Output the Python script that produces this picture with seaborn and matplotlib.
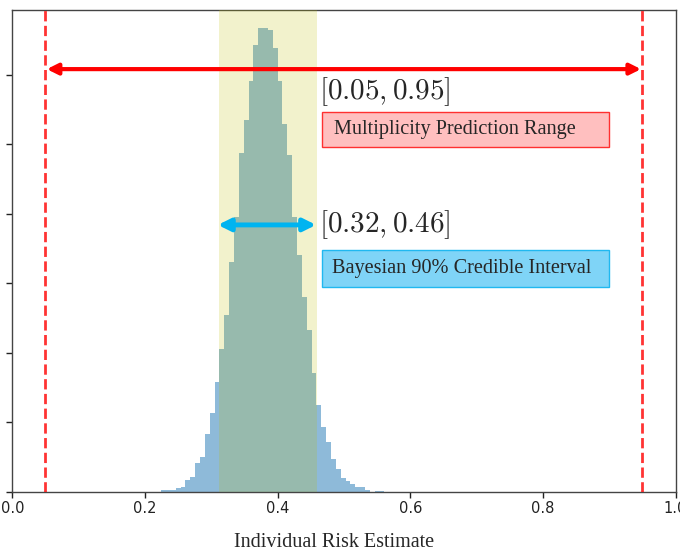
import numpy as np
import pandas as pd
import matplotlib
matplotlib.use("Agg")
import matplotlib.pyplot as plt
import seaborn as sns
from matplotlib.patches import Rectangle

# ---- data ----
bin_start = 0.2244
bin_width = 0.00732
heights = [0.03, 0.03, 0.03, 0.06, 0.07, 0.17, 0.22, 0.41, 0.51, 0.84, 1.14, 1.58,
           2.06, 2.55, 3.30, 3.96, 4.87, 5.35, 5.91, 6.43, 6.67, 6.67, 6.64, 6.38,
           5.91, 5.29, 4.84, 3.96, 3.41, 2.80, 2.33, 1.71,
           1.25, 0.93, 0.72, 0.48, 0.33, 0.20, 0.16, 0.12, 0.07, 0.07, 0.03, 0.0,
           0.02, 0.02]
credible_span = [0.312, 0.459]
prediction_range = [0.05, 0.95]
credible_label = r"$[0.32, 0.46]$"
range_label = r"$[0.05, 0.95]$"
range_box_text = "Multiplicity Prediction Range"
credible_box_text = "Bayesian 90% Credible Interval"
x_ticks = [0.0, 0.2, 0.4, 0.6, 0.8, 1.0]
x_tick_labels = ["0.0", "0.2", "0.4", "0.6", "0.8", "1.0"]
y_ticks = [0, 1, 2, 3, 4, 5, 6]
x_label = "Individual Risk Estimate"

edges = [bin_start + bin_width * i for i in range(len(heights) + 1)]
centers = [(edges[i] + edges[i + 1]) / 2 for i in range(len(heights))]
df = pd.DataFrame({"risk": centers, "w": heights})

sns.set_theme(style="ticks")
plt.rcParams["font.family"] = ["DejaVu Sans"]
plt.rcParams["mathtext.fontset"] = "cm"

fig = plt.figure(figsize=(6.8, 5.52), dpi=100)
ax = fig.add_axes([12.3 / 680, 60 / 552, (675.5 - 12.3) / 680, 482 / 552])

sns.histplot(data=df, x="risk", weights="w", bins=edges, stat="count",
             element="step", fill=True, color="#1f77b4", alpha=0.5,
             linewidth=0, ax=ax)

ax.axvspan(credible_span[0], credible_span[1], color="#bfbf00", alpha=0.2, lw=0, zorder=3)

for xv in prediction_range:
    ax.axvline(xv, color="red", ls="--", lw=2, alpha=0.8, zorder=4)

ax.annotate("", xy=(prediction_range[0] + 0.002, 6.08), xytext=(prediction_range[1] - 0.002, 6.08),
            arrowprops=dict(arrowstyle="<|-|>", color="red", lw=3,
                            mutation_scale=16, shrinkA=0, shrinkB=0), zorder=5)
ax.annotate("", xy=(credible_span[0] - 0.002, 3.84), xytext=(credible_span[1] - 0.001, 3.84),
            arrowprops=dict(arrowstyle="<|-|>", color="#00b4f0", lw=3.5,
                            mutation_scale=18, shrinkA=0, shrinkB=0), zorder=5)

ax.text(0.463, 5.76, range_label, fontsize=21, va="center", ha="left", zorder=6)
ax.text(0.463, 3.84, credible_label, fontsize=21, va="center", ha="left", zorder=6)

ax.add_patch(Rectangle((0.467, 4.96), 0.432, 0.51, facecolor="#ffbfbf",
                       edgecolor="#ff3030", lw=1, zorder=6))
ax.text(0.485, 5.215, range_box_text, fontsize=14.6, family="Liberation Serif",
        va="center", ha="left", zorder=7)
ax.add_patch(Rectangle((0.467, 2.95), 0.432, 0.53, facecolor="#7fd4f7",
                       edgecolor="#20b8f0", lw=1, zorder=6))
ax.text(0.482, 3.215, credible_box_text, fontsize=14.6, family="Liberation Serif",
        va="center", ha="left", zorder=7)

ax.set_xlim(0, 1)
ax.set_ylim(0, 6.93)
ax.set_xticks(x_ticks)
ax.set_xticklabels(x_tick_labels, fontsize=10.5)
ax.set_yticks(y_ticks)
ax.set_yticklabels([])
ax.set_ylabel("")
ax.set_xlabel(x_label, family="Liberation Serif", fontsize=14.5)
ax.xaxis.set_label_coords(0.485, -0.086)
for s in ax.spines.values():
    s.set_color("#444444")
    s.set_linewidth(1.0)
ax.tick_params(colors="#222222", length=4, width=1)
ax.tick_params(axis="x", pad=2.5)

fig.savefig("out.png", dpi=100)
